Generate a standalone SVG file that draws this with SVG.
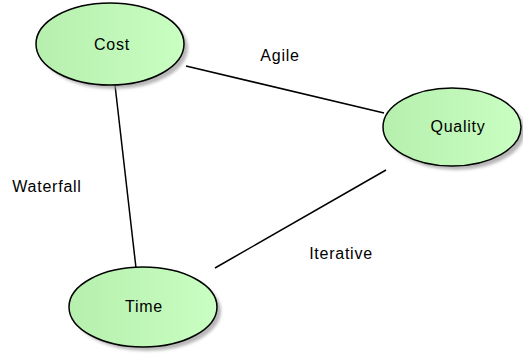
<svg xmlns="http://www.w3.org/2000/svg" width="523" height="355" viewBox="0 0 523 355">
<defs>
<linearGradient id="g" x1="0" y1="0" x2="1" y2="0">
<stop offset="0" stop-color="#b6efae"/>
<stop offset="1" stop-color="#c9ffc2"/>
</linearGradient>
<filter id="blur" x="-10%" y="-10%" width="120%" height="120%"><feGaussianBlur stdDeviation="1.5"/></filter>
</defs>
<style>
.shadow{fill:#999;filter:url(#blur);opacity:0.7}
.node{fill:url(#g);stroke:#000;stroke-width:1.5}
.lbl{font-family:"Liberation Sans",Arial,sans-serif;font-size:16px;letter-spacing:0.75px;fill:#000}
.c{text-anchor:middle}
.edge{stroke:#000;stroke-width:1.5;fill:none}
</style>
<rect width="523" height="355" fill="#fff"/>
<g id="connectors">
<line class="edge" x1="186" y1="66" x2="384" y2="113"/>
<line class="edge" x1="115" y1="85" x2="136" y2="268"/>
<line class="edge" x1="386" y1="170" x2="215" y2="268"/>
<text class="lbl c" x="280" y="61">Agile</text>
<text class="lbl c" x="47" y="192">Waterfall</text>
<text class="lbl c" x="341" y="259">Iterative</text>
</g>
<g id="cost">
<ellipse class="shadow" cx="114" cy="48" rx="74" ry="41"/>
<ellipse class="node" cx="110" cy="44" rx="74" ry="41"/>
<text class="lbl c" x="112" y="50">Cost</text>
</g>
<g id="quality">
<ellipse class="shadow" cx="456" cy="131" rx="69" ry="39"/>
<ellipse class="node" cx="452" cy="127" rx="69" ry="39"/>
<text class="lbl c" x="458" y="132">Quality</text>
</g>
<g id="time">
<ellipse class="shadow" cx="147" cy="311" rx="74" ry="40"/>
<ellipse class="node" cx="143" cy="307" rx="74" ry="40"/>
<text class="lbl c" x="144" y="312">Time</text>
</g>
</svg>
